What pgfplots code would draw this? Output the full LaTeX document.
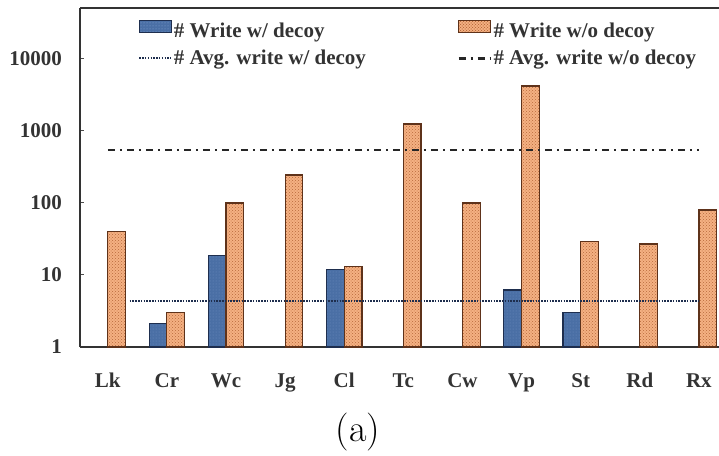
\documentclass[border=0pt]{standalone}
\usepackage{pgfplots}
\pgfplotsset{compat=1.18}
\usepackage{fontspec}
\newfontfamily\tnr{Liberation Serif}
\usetikzlibrary{patterns}
\definecolor{bluefill}{HTML}{4A6FA5}
\definecolor{blueedge}{HTML}{1E2E4E}
\definecolor{bluedots}{HTML}{7090C0}
\definecolor{orfill}{HTML}{F4B183}
\definecolor{oredge}{HTML}{5E321A}
\definecolor{ordots}{HTML}{B8683A}
\tikzset{
  dotline/.style={line width=2pt, color=blueedge, dash pattern=on 1.5pt off 1.3pt},
  dashdotline/.style={line width=2.6pt, color=black!85, dash pattern=on 7pt off 5pt on 2pt off 5pt},
  bluebar/.style={fill=bluefill, draw=blueedge, line width=1.2pt, postaction={pattern=dots, pattern color=bluedots}},
  orbar/.style={fill=orfill, draw=oredge, line width=1.2pt, postaction={pattern=crosshatch dots, pattern color=ordots}},
}
\begin{document}
\begin{tikzpicture}[x=1pt,y=1pt]
\path[use as bounding box] (0,0) rectangle (719,455);
\begin{axis}[
  at={(80pt,108pt)}, anchor=south west,
  width=639pt, height=339pt, scale only axis,
  ymode=log, ymin=1, ymax=51000,
  xmin=-0.47, xmax=10.34,
  axis x line*=box, axis y line*=left,
  axis line style={line width=2pt, black!80},
  ytick={1,10,100,1000,10000},
  yticklabels={1,10,100,1000,10000},
  yminorticks=false,
  ytick align=inside, major tick length=4pt,
  ytick style={line width=1pt, black!70},
  xtick={0,1,2,3,4,5,6,7,8,9,10},
  xticklabels={Lk,Cr,Wc,Jg,Cl,Tc,Cw,Vp,St,Rd,Rx},
  xtick style={draw=none},
  ticklabel style={font=\tnr\bfseries\fontsize{21}{24}\selectfont, text=black!80},
  yticklabel style={anchor=east, inner sep=0pt, xshift=-18pt},
  xticklabel style={anchor=north, inner sep=0pt, yshift=-26pt, text height=14pt, text depth=4pt},
  clip=false,
  legend columns=2,
  legend cell align=left,
  legend style={at={(0.091,0.965)}, anchor=north west, draw=none, fill=none,
    inner sep=0pt, font=\tnr\bfseries\fontsize{21}{23}\selectfont,
    nodes={inner xsep=1.5pt, inner ysep=2pt, text=black!80},
    row sep=7pt,
    /tikz/column 2/.style={column sep=90pt}},
]
\addplot[ybar, bar width=0.3, bar shift=-0.15, bluebar,
  legend image code/.code={\draw[bluebar] (0pt,-1.5pt) rectangle (32pt,10.5pt);}]
  coordinates {(1,2.1) (2,18.5) (4,12) (7,6.2) (8,3)};
\addlegendentry{\# Write w/ decoy}
\addplot[ybar, bar width=0.3, bar shift=0.15, orbar,
  legend image code/.code={\draw[orbar] (0pt,-1.5pt) rectangle (32pt,10.5pt);}]
  coordinates {(0,40) (1,3) (2,100) (3,245) (4,13) (5,1250) (6,100) (7,4200) (8,29) (9,27) (10,80)};
\addlegendentry{\# Write w/o decoy}
\addplot[dotline,
  legend image code/.code={\draw[dotline] (0pt,0pt) -- (32pt,0pt);}]
  coordinates {(0.37,4.3) (10,4.3)};
\addlegendentry{\# Avg. write w/ decoy}
\addplot[dashdotline,
  legend image code/.code={\draw[dashdotline] (0pt,0pt) -- (32pt,0pt);}]
  coordinates {(0,545) (10,545)};
\addlegendentry{\# Avg. write w/o decoy}
\end{axis}
\node[font=\fontsize{38}{40}\selectfont] at (358,23) {(a)};
\end{tikzpicture}
\end{document}
